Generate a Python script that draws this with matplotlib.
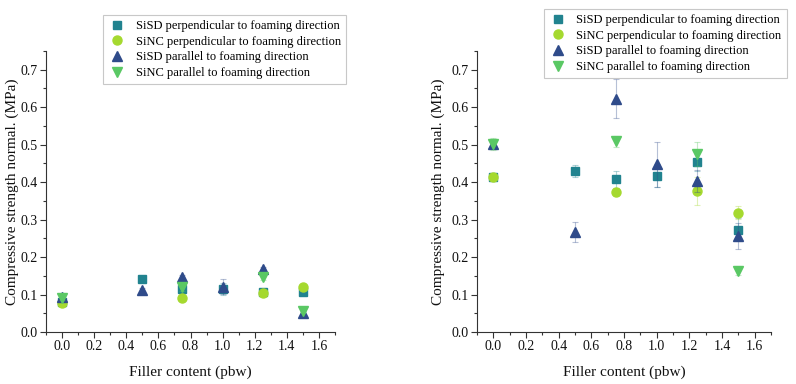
import numpy as np
import matplotlib
matplotlib.use("Agg")
import matplotlib.pyplot as plt
from matplotlib.ticker import MultipleLocator, FormatStrFormatter

plt.rcParams['font.family'] = ['Liberation Serif', 'DejaVu Serif']

labels = ["SiSD perpendicular to foaming direction",
          "SiNC perpendicular to foaming direction",
          "SiSD parallel to foaming direction",
          "SiNC parallel to foaming direction"]

# left panel (x positions per series, values, errors)
left_x = [
    [0.0, 0.5, 0.75, 1.0, 1.25, 1.5],
    [0.0, 0.75, 1.25, 1.5],
    [0.0, 0.5, 0.75, 1.0, 1.25, 1.5],
    [0.0, 0.75, 1.25, 1.5],
]
left_y = [
    [0.080, 0.142, 0.115, 0.115, 0.108, 0.108],
    [0.078, 0.090, 0.103, 0.120],
    [0.093, 0.112, 0.146, 0.121, 0.168, 0.050],
    [0.092, 0.120, 0.148, 0.056],
]
left_err = [
    [0.008, 0.004, 0.008, 0.015, 0.004, 0.006],
    [0.005, 0.004, 0.005, 0.006],
    [0.010, 0.006, 0.006, 0.020, 0.006, 0.006],
    [0.006, 0.010, 0.008, 0.006],
]

# right panel
right_x = [
    [0.0, 0.5, 0.75, 1.0, 1.25, 1.5],
    [0.0, 0.75, 1.25, 1.5],
    [0.0, 0.5, 0.75, 1.0, 1.25, 1.5],
    [0.0, 0.75, 1.25, 1.5],
]
right_y = [
    [0.413, 0.430, 0.408, 0.417, 0.454, 0.273],
    [0.413, 0.374, 0.376, 0.318],
    [0.503, 0.267, 0.622, 0.448, 0.403, 0.257],
    [0.502, 0.509, 0.476, 0.163],
]
right_err = [
    [0.006, 0.017, 0.023, 0.031, 0.025, 0.030],
    [0.006, 0.010, 0.037, 0.017],
    [0.012, 0.027, 0.052, 0.060, 0.030, 0.035],
    [0.016, 0.014, 0.032, 0.012],
]

colors = ['#21838f', '#a5d92f', '#2f4b8a', '#5ac864']
markers = ['s', 'o', '^', 'v']
sizes = [5.5, 6.5, 7.5, 7.5]

fig = plt.figure(figsize=(7.96, 3.84), dpi=100)
ax1 = fig.add_axes([0.0578, 0.1354, 0.3631, 0.7318])
ax2 = fig.add_axes([0.5992, 0.1354, 0.3694, 0.7318])

panels = [(ax1, left_x, left_y, left_err, (0.1294, 0.961), -0.093),
          (ax2, right_x, right_y, right_err, (0.6834, 0.9766), -0.109)]

for ax, xs, ys, es, anchor, ylab_x in panels:
    handles = []
    for i in range(4):
        ax.errorbar(xs[i], ys[i], yerr=es[i], fmt='none', ecolor=colors[i],
                    alpha=0.35, elinewidth=0.8, capsize=2.5, capthick=0.8)
        h, = ax.plot(xs[i], ys[i], linestyle='none', marker=markers[i],
                     color=colors[i], markersize=sizes[i], label=labels[i])
        handles.append(h)
    ax.set_xlim(-0.1, 1.7)
    ax.set_ylim(0, 0.75)
    ax.set_xticks(np.arange(0, 1.61, 0.2))
    ax.set_yticks(np.arange(0, 0.71, 0.1))
    ax.xaxis.set_minor_locator(MultipleLocator(0.1))
    ax.yaxis.set_minor_locator(MultipleLocator(0.05))
    ax.xaxis.set_major_formatter(FormatStrFormatter('%.1f'))
    ax.yaxis.set_major_formatter(FormatStrFormatter('%.1f'))
    ax.spines['top'].set_visible(False)
    ax.spines['right'].set_visible(False)
    for s in ('left', 'bottom'):
        ax.spines[s].set_color('#333333')
    ax.tick_params(direction='out', labelsize=10, length=4, width=0.8,
                   pad=2, colors='#333333', labelcolor='#111111')
    ax.tick_params(which='minor', direction='out', length=2, width=0.8,
                   colors='#333333')
    ax.set_xlabel("Filler content (pbw)", fontsize=11, color='#111111')
    ax.set_ylabel("Compressive strength normal. (MPa)", fontsize=11,
                  color='#111111')
    ax.xaxis.set_label_coords(0.5, -0.118)
    ax.yaxis.set_label_coords(ylab_x, 0.5)
    leg = fig.legend(handles=handles, loc='upper left', bbox_to_anchor=anchor,
                     bbox_transform=fig.transFigure, fontsize=9,
                     frameon=True, fancybox=False, framealpha=1,
                     edgecolor='#c8c8c8', borderaxespad=0, handletextpad=0.8,
                     handlelength=1.4, labelspacing=0.3, borderpad=0.4)
    leg.get_frame().set_linewidth(0.8)

fig.savefig("out.png", dpi=100)
